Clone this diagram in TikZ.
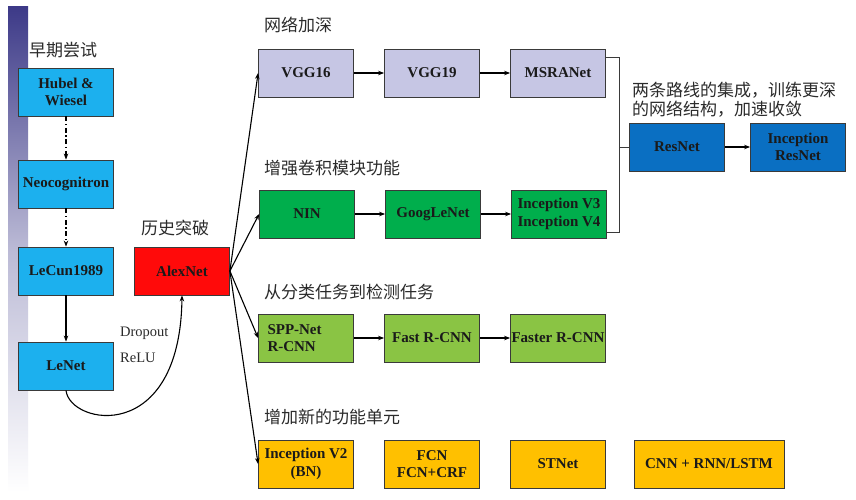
\documentclass[tikz,border=0pt]{standalone}
\usepackage{fontspec}
\setmainfont{Liberation Serif}
\newfontfamily\cjk{Noto Sans CJK SC}
\usetikzlibrary{arrows.meta, positioning}
\definecolor{barblue}{HTML}{3D3A88}
\definecolor{earlyblue}{HTML}{1CB0EE}
\definecolor{alexred}{HTML}{FF0A0A}
\definecolor{deeplav}{HTML}{C6C6E4}
\definecolor{convgreen}{HTML}{00AE4C}
\definecolor{detgreen}{HTML}{8AC444}
\definecolor{resblue}{HTML}{0A6FC2}
\definecolor{unitorange}{HTML}{FFC000}
\definecolor{boxline}{HTML}{3A3A3A}
\definecolor{boxtext}{HTML}{1A1A1A}
\definecolor{titlegray}{HTML}{2B2B2B}

\begin{document}
\begin{tikzpicture}[
        x=1pt, y=-1pt, node distance=126pt, on grid, >={Stealth[length=6pt,width=4.5pt]},
        box/.style={draw=boxline, line width=0.8pt, minimum width=95pt, minimum height=48pt,
          inner sep=1pt, align=center, text=boxtext, font=\fontsize{15}{17.5}\selectfont\bfseries},
        early/.style={box, fill=earlyblue}, alex/.style={box, fill=alexred},
        deep/.style={box, fill=deeplav}, conv/.style={box, fill=convgreen},
        det/.style={box, fill=detgreen}, res/.style={box, fill=resblue},
        unit/.style={box, fill=unitorange},
        title/.style={anchor=west, inner sep=0pt, text=titlegray, font=\cjk\fontsize{17}{19}\selectfont},
        link/.style={->, line width=1.1pt},
        bracket/.style={line width=0.9pt, draw=boxline},
        ]
        \fill[white] (0,0) rectangle (856,500);
        \useasboundingbox (0,0) rectangle (856,500);
        \shade[top color=barblue, bottom color=white, middle color=barblue!35] (8,7) rectangle (28,492);

        % early attempts
        \node[title] (early_title) at (29,50) {早期尝试};
        \node[early] (hubel_wiesel) at (66,92) {Hubel \&\\Wiesel};
        \node[early, below=92pt of hubel_wiesel] (neocognitron) {Neocognitron};
        \node[early, below=87pt of neocognitron] (lecun_1989) {LeCun1989};
        \node[early, below=95pt of lecun_1989] (lenet) {LeNet};
        \node[title, anchor=center] (alex_title) at (175,228) {历史突破};
        \node[alex] (alexnet) at (182,271) {AlexNet};
        \node[anchor=west, inner sep=0pt, text=titlegray, font=\fontsize{14.5}{17}\selectfont] (dropout) at (120,333) {Dropout};
        \node[anchor=west, inner sep=0pt, text=titlegray, font=\fontsize{14.5}{17}\selectfont] (relu) at (120,358) {ReLU};

        \path[link, dash pattern=on 5pt off 2.5pt on 1.5pt off 2.5pt]
          (hubel_wiesel) edge (neocognitron)
          (neocognitron) edge (lecun_1989);
        \draw[link] (lecun_1989) -- (lenet);
        \draw[link] (lenet.south) .. controls +(4,35) and +(-2,150) .. (alexnet.south);

        % deeper
        \node[title] (deep_title) at (264,25) {网络加深};
        \node[deep] (vgg_16) at (306,73) {VGG16};
        \node[deep, right=of vgg_16] (vgg_19) {VGG19};
        \node[deep, right=of vgg_19] (msranet) {MSRANet};

        % conv modules
        \node[title] (conv_title) at (264,168) {增强卷积模块功能};
        \node[conv] (nin) at (307,214) {NIN};
        \node[conv, right=of nin] (googlenet) {GoogLeNet};
        \node[conv, right=of googlenet] (inception_v34) {Inception V3\\Inception V4};

        % detection
        \node[title] (det_title) at (264,292) {从分类任务到检测任务};
        \node[det, text width=77pt, align=left] (spp_net) at (306,338) {SPP-Net\\R-CNN};
        \node[det, right=of spp_net] (fast_rcnn) {Fast R-CNN};
        \node[det, right=of fast_rcnn] (faster_rcnn) {Faster R-CNN};

        % new units
        \node[title] (unit_title) at (264,417) {增加新的功能单元};
        \node[unit] (inception_v2) at (306,464) {Inception V2\\(BN)};
        \node[unit, right=of inception_v2] (fcn) {FCN\\FCN+CRF};
        \node[unit, right=of fcn] (stnet) {STNet};
        \node[unit, minimum width=150pt, right=151pt of stnet] (cnn_rnn) {CNN + RNN/LSTM};

        % merge
        \node[title, anchor=north west, align=left, font=\cjk\fontsize{17}{18.5}\selectfont] (res_title) at (632,82)
          {两条路线的集成，训练更深\\的网络结构，加速收敛};
        \node[res] (resnet) at (677,147) {ResNet};
        \node[res, right=121pt of resnet] (inception_resnet) {Inception\\ResNet};

        \draw[bracket] ([yshift=-9pt]msranet.north east) -- ++(14,0) |- ([yshift=6pt]inception_v34.south east);
        \draw[bracket] (resnet.west) -- ++(-10,0);

        \foreach \a/\b in {vgg_16/vgg_19, vgg_19/msranet, nin/googlenet, googlenet/inception_v34,
            spp_net/fast_rcnn, fast_rcnn/faster_rcnn, resnet/inception_resnet}
          \draw[link] (\a) -- (\b);
        \foreach \b in {vgg_16, nin, spp_net, inception_v2}
          \draw[link] (alexnet.east) -- (\b.west);
      \end{tikzpicture}
\end{document}
